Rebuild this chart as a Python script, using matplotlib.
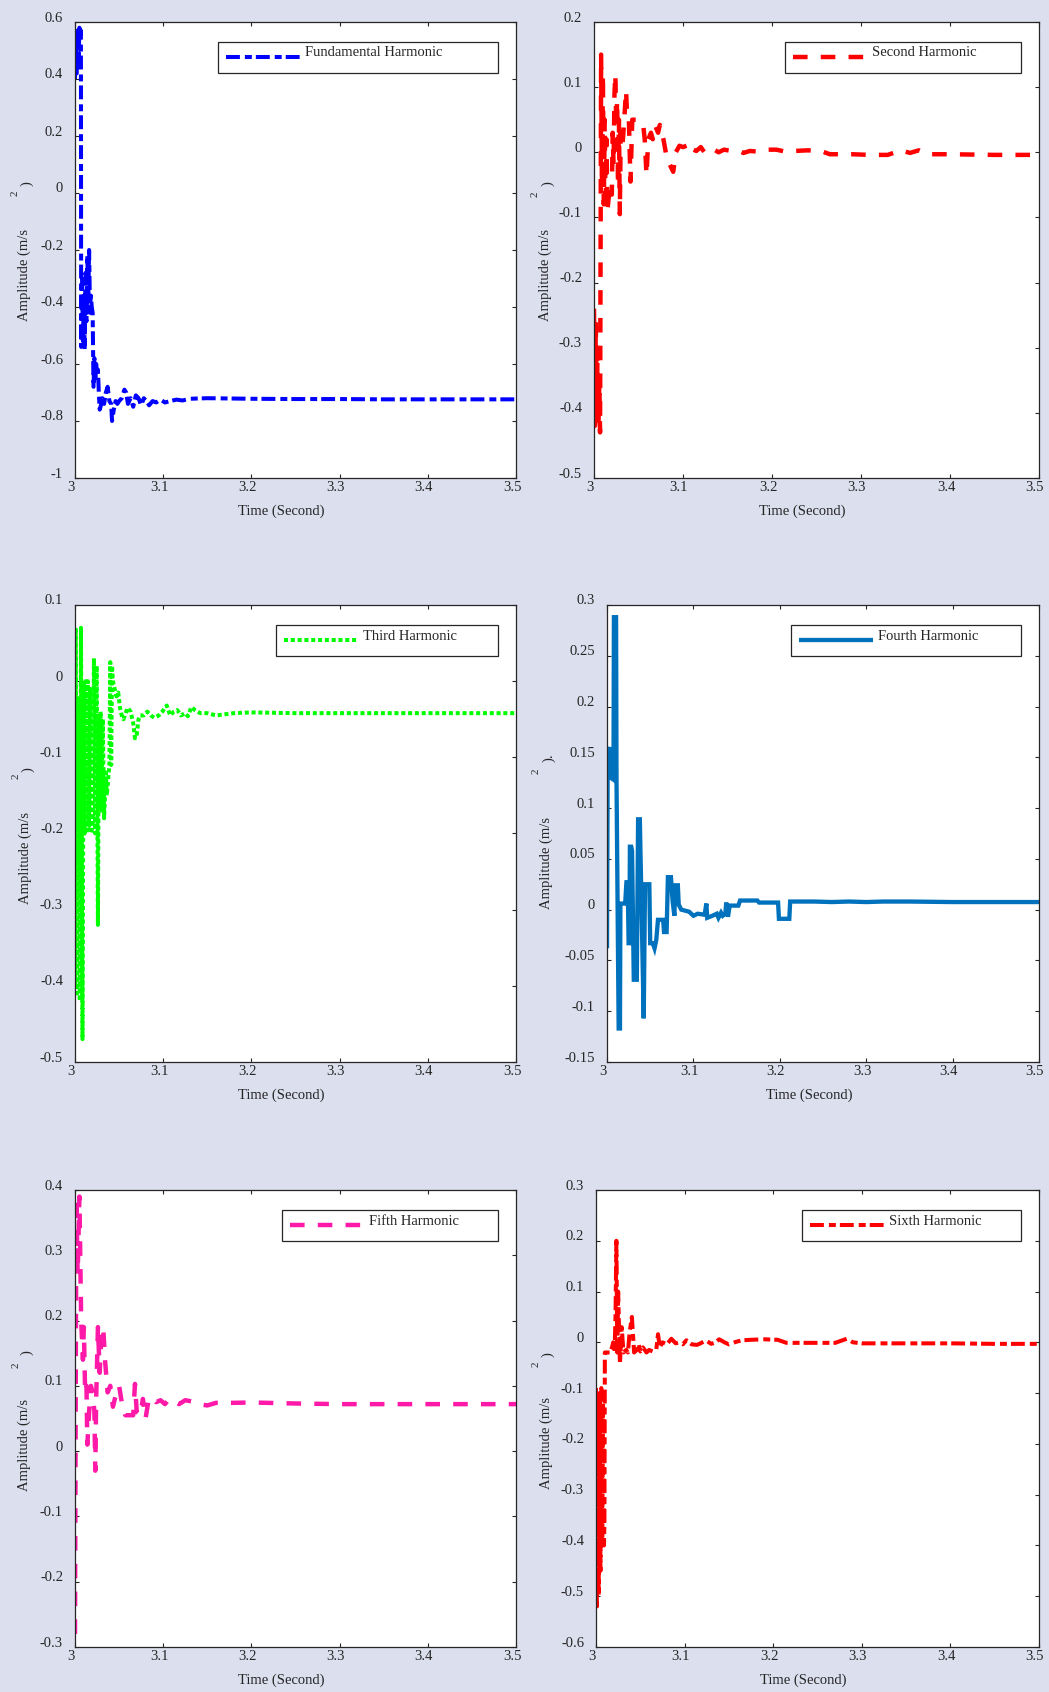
import matplotlib
matplotlib.use("Agg")
import matplotlib.pyplot as plt
import matplotlib.transforms as mtransforms
from matplotlib.lines import Line2D
from matplotlib.patches import Rectangle

plt.rcParams['font.family'] = ['Liberation Serif', 'DejaVu Serif']
plt.rcParams['axes.unicode_minus'] = False
plt.rcParams['lines.scale_dashes'] = False

# ---------------- data ----------------
fund_t = [3.000, 3.001, 3.002, 3.003, 3.004, 3.005, 3.006, 3.0067,
          3.007, 3.008, 3.009, 3.010, 3.011, 3.012, 3.013, 3.014, 3.015, 3.016, 3.017, 3.018,
          3.019, 3.020, 3.021, 3.022, 3.023, 3.024, 3.025, 3.026, 3.027, 3.028, 3.029,
          3.031, 3.033, 3.035, 3.037, 3.039, 3.041, 3.042, 3.044, 3.046, 3.048, 3.050,
          3.053, 3.056, 3.058, 3.060, 3.063, 3.066, 3.069, 3.072, 3.075, 3.078, 3.081,
          3.084, 3.088, 3.092, 3.097, 3.102, 3.108, 3.115, 3.122, 3.130, 3.150, 3.200,
          3.250, 3.300, 3.350, 3.400, 3.450, 3.500]
fund_a = [0.40, 0.56, 0.42, 0.57, 0.45, 0.58, 0.55, 0.57,
          -0.54, -0.30, -0.52, -0.36, -0.55, -0.28, -0.45, -0.22, -0.38, -0.20, -0.42, -0.36,
          -0.40, -0.42, -0.68, -0.58, -0.66, -0.60, -0.64, -0.62, -0.70, -0.76, -0.75,
          -0.72, -0.74, -0.70, -0.68, -0.73, -0.74, -0.80, -0.76, -0.73, -0.74, -0.73,
          -0.72, -0.69, -0.70, -0.74, -0.72, -0.75, -0.71, -0.72, -0.745, -0.72, -0.73,
          -0.745, -0.73, -0.735, -0.725, -0.735, -0.73, -0.725, -0.728, -0.722, -0.72, -0.722,
          -0.723, -0.723, -0.724, -0.724, -0.724, -0.724]

second_t = [3.000, 3.001, 3.002, 3.003, 3.004, 3.005, 3.006, 3.0068, 3.0075, 3.008,
            3.009, 3.010, 3.011, 3.012, 3.013, 3.014, 3.015, 3.018, 3.020, 3.021,
            3.022, 3.023, 3.024, 3.025, 3.026, 3.027, 3.028, 3.029, 3.030, 3.032,
            3.034, 3.036, 3.037, 3.039, 3.041, 3.043, 3.049, 3.055, 3.057, 3.059,
            3.061, 3.064, 3.066, 3.069, 3.072, 3.074, 3.078, 3.082, 3.089, 3.092,
            3.096, 3.100, 3.104, 3.107, 3.110, 3.115, 3.120, 3.125, 3.130, 3.135,
            3.140, 3.146, 3.155, 3.163, 3.168, 3.175, 3.185, 3.195, 3.205, 3.215,
            3.225, 3.240, 3.255, 3.265, 3.290, 3.310, 3.330, 3.345, 3.355, 3.365,
            3.375, 3.400, 3.450, 3.500]
second_a = [-0.24, -0.42, -0.26, -0.41, -0.30, -0.42, -0.35, -0.43, -0.10, 0.15,
            -0.05, 0.12, -0.08, 0.05, -0.09, 0.02, -0.09, -0.05, -0.065, 0.03,
            -0.02, 0.09, 0.12, 0.04, 0.08, -0.05, 0.05, -0.095, 0.03, 0.01,
            0.05, 0.095, 0.063, 0.06, -0.045, 0.05, 0.05, 0.045, 0.02, -0.035,
            0.02, 0.03, 0.02, 0.04, 0.03, 0.042, 0.02, -0.01, -0.03, 0.0,
            0.01, 0.008, 0.01, 0.0, 0.005, 0.002, 0.008, -0.002, 0.001, 0.004,
            0.0, 0.004, 0.002, 0.002, -0.001, 0.002, 0.001, 0.004, 0.004, 0.001,
            0.002, 0.003, 0.002, -0.003, -0.003, -0.004, -0.004, 0.003, -0.001, 0.003,
            -0.003, -0.003, -0.004, -0.004]

third_t = [3.000, 3.0008, 3.0025, 3.004, 3.0055, 3.0068, 3.0085, 3.0098, 3.011, 3.012,
           3.0135, 3.0145, 3.016, 3.017, 3.018, 3.020, 3.0215, 3.023, 3.0245, 3.026,
           3.027, 3.028, 3.029, 3.030, 3.0315, 3.033, 3.035, 3.036, 3.039, 3.040,
           3.041, 3.042, 3.043, 3.045, 3.047, 3.049, 3.051, 3.053, 3.055, 3.058,
           3.060, 3.063, 3.066, 3.068, 3.070, 3.072, 3.074, 3.078, 3.082, 3.086,
           3.090, 3.095, 3.099, 3.104, 3.108, 3.112, 3.116, 3.120, 3.125, 3.128,
           3.132, 3.136, 3.142, 3.150, 3.160, 3.180, 3.200, 3.250, 3.300, 3.350,
           3.400, 3.450, 3.500]
third_a = [-0.40, 0.07, -0.41, -0.02, -0.42, 0.07, -0.47, 0.0, -0.20, 0.0,
           -0.20, 0.0, -0.19, -0.01, -0.20, -0.19, 0.03, -0.20, 0.02, -0.32,
           -0.05, -0.16, -0.04, -0.17, -0.05, -0.18, -0.12, -0.15, -0.11, 0.025,
           -0.11, 0.02, 0.0, -0.01, -0.02, -0.015, -0.035, -0.045, -0.05, -0.04,
           -0.035, -0.04, -0.055, -0.075, -0.07, -0.05, -0.045, -0.045, -0.04, -0.045,
           -0.048, -0.045, -0.04, -0.032, -0.045, -0.04, -0.038, -0.045, -0.042, -0.046,
           -0.034, -0.038, -0.042, -0.042, -0.045, -0.042, -0.041, -0.042, -0.042, -0.042,
           -0.042, -0.042, -0.042]

fourth_t = [3.000, 3.0008, 3.003, 3.004, 3.0075, 3.008, 3.0105, 3.011, 3.0135, 3.015,
            3.0155, 3.021, 3.0225, 3.024, 3.025, 3.026, 3.0265, 3.028, 3.029, 3.031,
            3.0345, 3.036, 3.038, 3.0425, 3.044, 3.049, 3.050, 3.053, 3.055, 3.057,
            3.059, 3.065, 3.066, 3.069, 3.0705, 3.074, 3.076, 3.078, 3.079, 3.082,
            3.083, 3.086, 3.095, 3.100, 3.105, 3.113, 3.115, 3.116, 3.122, 3.127,
            3.129, 3.132, 3.134, 3.137, 3.138, 3.140, 3.142, 3.152, 3.154, 3.174,
            3.176, 3.198, 3.199, 3.211, 3.212, 3.240, 3.260, 3.280, 3.300, 3.320,
            3.350, 3.400, 3.450, 3.500]
fourth_a = [-0.038, 0.155, 0.16, 0.13, 0.128, 0.288, 0.288, 0.128, -0.117, -0.117,
            0.006, 0.006, 0.027, 0.027, -0.033, -0.033, 0.062, 0.062, 0.058, -0.069,
            -0.069, 0.089, 0.089, -0.107, 0.025, 0.025, -0.033, -0.033, -0.038, -0.030,
            -0.010, -0.010, -0.022, -0.022, 0.032, 0.032, 0.008, -0.006, 0.024, 0.024,
            0.005, 0.0, -0.002, -0.006, -0.004, -0.005, 0.006, -0.008, -0.006, -0.004,
            -0.008, -0.003, -0.006, -0.004, 0.007, -0.007, 0.004, 0.004, 0.009, 0.009,
            0.007, 0.007, -0.009, -0.009, 0.008, 0.008, 0.0075, 0.008, 0.0075, 0.008,
            0.008, 0.0075, 0.0075, 0.0075]

fifth_t = [3.000, 3.0015, 3.003, 3.005, 3.007, 3.009, 3.010, 3.0115, 3.013, 3.014,
           3.016, 3.018, 3.020, 3.022, 3.023, 3.024, 3.026, 3.028, 3.030, 3.032,
           3.034, 3.037, 3.040, 3.043, 3.047, 3.050, 3.053, 3.057, 3.066, 3.068,
           3.070, 3.074, 3.077, 3.080, 3.083, 3.087, 3.092, 3.097, 3.102, 3.107,
           3.111, 3.118, 3.125, 3.133, 3.140, 3.150, 3.160, 3.180, 3.200, 3.250,
           3.300, 3.400, 3.500]
fifth_a = [-0.28, 0.39, 0.27, 0.39, 0.20, 0.14, 0.19, 0.09, 0.10, 0.01,
           0.06, 0.10, 0.09, 0.06, -0.03, 0.08, 0.19, 0.12, 0.18, 0.19,
           0.14, 0.09, 0.10, 0.068, 0.09, 0.10, 0.075, 0.055, 0.055, 0.103,
           0.06, 0.055, 0.08, 0.05, 0.075, 0.083, 0.075, 0.078, 0.072, 0.08,
           0.078, 0.072, 0.078, 0.076, 0.072, 0.07, 0.074, 0.074, 0.0745, 0.073,
           0.072, 0.072, 0.072]

sixth_t = [3.000, 3.001, 3.002, 3.003, 3.004, 3.005, 3.006, 3.007, 3.008, 3.009,
           3.0095, 3.010, 3.016, 3.018, 3.0195, 3.021, 3.022, 3.023, 3.024, 3.025,
           3.027, 3.029, 3.031, 3.034, 3.036, 3.038, 3.0405, 3.043, 3.046, 3.048,
           3.050, 3.053, 3.057, 3.060, 3.064, 3.068, 3.070, 3.072, 3.075, 3.080,
           3.085, 3.090, 3.094, 3.098, 3.102, 3.108, 3.114, 3.118, 3.124, 3.130,
           3.135, 3.139, 3.145, 3.150, 3.158, 3.165, 3.175, 3.190, 3.205, 3.215,
           3.240, 3.270, 3.283, 3.290, 3.300, 3.350, 3.400, 3.450, 3.500]
sixth_a = [-0.09, -0.52, -0.12, -0.50, -0.10, -0.45, -0.09, -0.40, -0.12, -0.40,
           -0.35, -0.02, -0.02, -0.01, 0.0, -0.02, 0.05, 0.20, -0.02, 0.10,
           -0.043, 0.03, -0.02, -0.015, -0.02, 0.02, 0.05, -0.02, -0.015, -0.003,
           -0.018, -0.01, -0.02, -0.015, -0.018, -0.015, 0.016, -0.01, 0.0, -0.004,
           0.007, -0.002, 0.0, -0.004, 0.004, -0.004, -0.005, -0.002, 0.004, -0.003,
           0.0, 0.006, 0.0, -0.004, 0.001, 0.004, 0.005, 0.006, 0.005, -0.001,
           -0.001, -0.001, 0.007, 0.0, -0.002, -0.002, -0.002, -0.003, -0.003]

labels = ['Fundamental Harmonic', 'Second Harmonic', 'Third Harmonic',
          'Fourth Harmonic', 'Fifth Harmonic', 'Sixth Harmonic']
y_limits = [(-1.0, 0.6), (-0.5, 0.2), (-0.5, 0.1), (-0.15, 0.3), (-0.3, 0.4), (-0.6, 0.3)]
y_steps = [0.2, 0.1, 0.1, 0.05, 0.1, 0.1]
x_ticks = [3.0, 3.1, 3.2, 3.3, 3.4, 3.5]

# ---------------- styles / layout ----------------
BG = '#dcdfee'
INK = '#262626'
W, H = 1049, 1692

DASHDOT = (10, 3.6, 5, 2.9)
DASHED = (10.5, 9.5)
DOTTED = (2.9, 2.0)
styles = [
    dict(color='#0000ff', lw=2.9, dashes=DASHDOT),
    dict(color='#ff0000', lw=3.2, dashes=DASHED),
    dict(color='#00ff00', lw=2.9, dashes=DOTTED),
    dict(color='#0072bd', lw=3.1, dashes=None),
    dict(color='#ff19a8', lw=3.2, dashes=DASHED),
    dict(color='#ff0000', lw=2.9, dashes=DASHDOT),
]

# axes boxes in pixels: left, right, top, bottom
ax_boxes = [(75, 516, 22, 478), (594, 1039, 22, 478),
            (75, 516, 605, 1062), (607, 1039, 605, 1062),
            (75, 516, 1190, 1647), (596, 1039, 1190, 1647)]
legend_widths = [280, 236, 222, 230, 216, 219]
# y-label pieces: (dx from left spine, dy from axes middle) in px
ylab_main = [(-51, 25), (-49, 25), (-50, 25), (-61, 29), (-51, 26), (-50, 24)]
ylab_sup = [(-60, -57), (-59, -56), (-59, -57), (-71, -62), (-59, -53), (-60, -54)]
ylab_close = [(-48, -66), (-46, -66), (-47, -64), (-58, -76), (-48, -66), (-48, -64)]
close_txt = [')', ')', ')', ').', ')', ')']

series = [(fund_t, fund_a), (second_t, second_a), (third_t, third_a),
          (fourth_t, fourth_a), (fifth_t, fifth_a), (sixth_t, sixth_a)]

fig = plt.figure(figsize=(W / 100, H / 100), dpi=100, facecolor=BG)


def fmt(v):
    v = round(v, 4)
    if v == 0:
        return '0'
    return f'{v:g}'


def line_kw(st):
    kw = dict(color=st['color'], lw=st['lw'], solid_capstyle='butt',
              dash_capstyle='butt', solid_joinstyle='miter')
    if st['dashes'] is not None:
        kw['dashes'] = st['dashes']
    return kw


for i, ((t, a), st) in enumerate(zip(series, styles)):
    l, r, tp, bt = ax_boxes[i]
    aw, ah = r - l, bt - tp
    ax = fig.add_axes([l / W, 1 - bt / H, aw / W, ah / H])
    ax.set_facecolor('white')
    ax.plot(t, a, **line_kw(st))

    lo, hi = y_limits[i]
    ax.set_xlim(3.0, 3.5)
    ax.set_ylim(lo, hi)
    n = int(round((hi - lo) / y_steps[i]))
    yt = [lo + k * y_steps[i] for k in range(n + 1)]
    ax.set_yticks(yt)
    ax.set_yticklabels([fmt(v) for v in yt])
    ax.set_xticks(x_ticks)
    ax.set_xticklabels([fmt(v) for v in x_ticks])
    ax.tick_params(direction='in', length=3, width=0.8, colors=INK,
                   labelsize=10.5, top=True, right=True)
    ax.tick_params(axis='y', pad=8.6)
    ax.tick_params(axis='x', pad=2.5)
    for sp in ax.spines.values():
        sp.set_color(INK)
        sp.set_linewidth(0.9)

    # tick labels sit a little above / left of their ticks
    up = mtransforms.ScaledTranslation(0, 5.5 / 100, fig.dpi_scale_trans)
    for lab in ax.get_yticklabels():
        lab.set_transform(lab.get_transform() + up)
    left = mtransforms.ScaledTranslation(-4 / 100, 0, fig.dpi_scale_trans)
    for lab in ax.get_xticklabels():
        lab.set_transform(lab.get_transform() + left)

    # x label, a bit left of the axes centre
    ax.text(0.5 - 14 / aw, -33 / ah, 'Time (Second)',
            transform=ax.transAxes, ha='center', va='center',
            fontsize=10.5, color=INK)

    # y label in three pieces
    mid = ah / 2
    for (dx, dy), txt, fs in [(ylab_main[i], 'Amplitude (m/s', 10.5),
                              (ylab_sup[i], '2', 8),
                              (ylab_close[i], close_txt[i], 10.5)]:
        ax.text(dx / aw, 1 - (mid + dy) / ah, txt, transform=ax.transAxes,
                rotation=90, ha='center', va='center', fontsize=fs,
                color=INK, clip_on=False)

    # legend box
    lw_px = legend_widths[i]
    x1 = 1 - 18 / aw
    x0 = x1 - lw_px / aw
    y1 = 1 - 20 / ah
    y0 = y1 - 31 / ah
    ax.add_patch(Rectangle((x0, y0), lw_px / aw, 31 / ah, transform=ax.transAxes,
                           facecolor='white', edgecolor=INK, lw=0.9, zorder=5))
    yc = y0 + 16 / ah
    ax.add_line(Line2D([x0 + 8 / aw, x0 + 82 / aw], [yc, yc], transform=ax.transAxes,
                       zorder=6, **line_kw(st)))
    ax.text(x0 + 87 / aw, yc + 4 / ah, labels[i], transform=ax.transAxes,
            ha='left', va='center', fontsize=10.5, color=INK, zorder=6)

fig.savefig('out.png', dpi=100, facecolor=BG)
